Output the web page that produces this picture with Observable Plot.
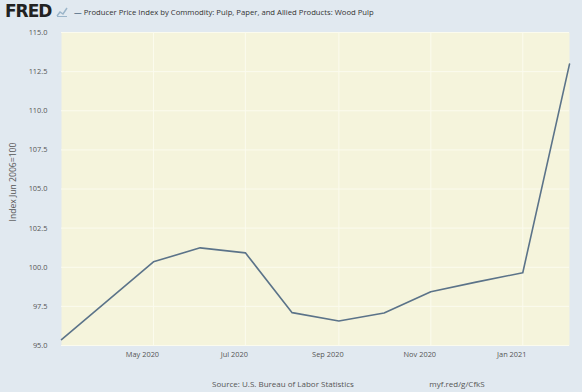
<!DOCTYPE html>
<html><head><meta charset="utf-8">
<script src="https://cdn.jsdelivr.net/npm/d3@7"></script>
<script src="https://cdn.jsdelivr.net/npm/@observablehq/plot@0.6"></script>
<style>
body{margin:0;background:#e1e9f0;font-family:"Open Sans",sans-serif;width:582px;height:392px;overflow:hidden;position:relative}
#hdr{position:absolute;left:0;top:0;height:26px;width:582px}
#logo{position:absolute;left:5px;top:1px;font-family:"DejaVu Sans",sans-serif;font-weight:bold;font-size:17px;letter-spacing:-1px;color:#222}
#icon{position:absolute;left:56px;top:6px}
#title{position:absolute;left:74px;top:7px;font-size:7.7px;color:#333;white-space:nowrap}
#title .dash{color:#5b7389;font-weight:bold}
#chart{position:absolute;left:0;top:26px}
#ylab{position:absolute;left:13px;top:182px;transform:translate(-50%,-50%) rotate(-90deg);font-size:8.6px;color:#555;white-space:nowrap}
#src{position:absolute;top:378px;left:283px;transform:translateX(-50%);font-size:8px;color:#555;white-space:nowrap}
#url{position:absolute;top:378px;left:457px;transform:translateX(-50%);font-size:8px;color:#555;white-space:nowrap}
</style></head>
<body>
<div id="hdr">
<div id="logo">FRED</div>
<svg id="icon" width="12" height="12"><polyline points="1,10 4,6 7,8 11,2" fill="none" stroke="#9bb5c9" stroke-width="1.5"/><rect x="1" y="10" width="10" height="1" fill="#9bb5c9"/></svg>
<div id="title"><span class="dash">—</span> Producer Price Index by Commodity: Pulp, Paper, and Allied Products: Wood Pulp</div>
</div>
<div id="chart"></div>
<div id="ylab">Index Jun 2006=100</div>
<div id="src">Source: U.S. Bureau of Labor Statistics</div>
<div id="url">myf.red/g/CfkS</div>
<script>
const months = ["2020-03","2020-04","2020-05","2020-06","2020-07","2020-08","2020-09","2020-10","2020-11","2020-12","2021-01","2021-02"];
const values = [95.38, 97.9, 100.35, 101.24, 100.92, 97.1, 96.57, 97.08, 98.44, 99.05, 99.65, 112.98];
const yTicks = [95, 97.5, 100, 102.5, 105, 107.5, 110, 112.5, 115];
const xTickMonths = ["2020-05","2020-07","2020-09","2020-11","2021-01"];
const xTickLabels = ["May 2020","Jul 2020","Sep 2020","Nov 2020","Jan 2021"];

const parse = d3.utcParse("%Y-%m");
const data = months.map((m,i)=>({date: parse(m), value: values[i]}));
const xTicks = xTickMonths.map(parse);
const labelOf = new Map(xTicks.map((d,i)=>[+d, xTickLabels[i]]));

const chart = Plot.plot({
  width: 582,
  height: 339,
  marginLeft: 61,
  marginRight: 13,
  marginTop: 6,
  marginBottom: 20,
  style: {background: "transparent", fontFamily: "Open Sans, sans-serif", fontSize: "7.4px", color: "#555"},
  x: {type: "utc", domain: [parse("2020-03"), parse("2021-02")], label: null},
  y: {domain: [95, 115], label: null},
  marks: [
    Plot.frame({fill: "#f5f4dc", stroke: "none"}),
    Plot.ruleY(yTicks, {stroke: "#fbfbee", strokeWidth: 1}),
    Plot.ruleX(xTicks, {stroke: "#fbfbee", strokeWidth: 1}),
    Plot.axisY({ticks: yTicks, tickFormat: d => d.toFixed(1), tickSize: 0, tickPadding: 14, fill: "#555", label: null}),
    Plot.axisX({ticks: xTicks, tickFormat: d => labelOf.get(+d), tickSize: 0, tickPadding: 6, dx: -11, fill: "#555", label: null}),
    Plot.line(data, {x: "date", y: "value", stroke: "#5b7389", strokeWidth: 1.6})
  ]
});
document.getElementById("chart").appendChild(chart);
</script>
</body></html>
